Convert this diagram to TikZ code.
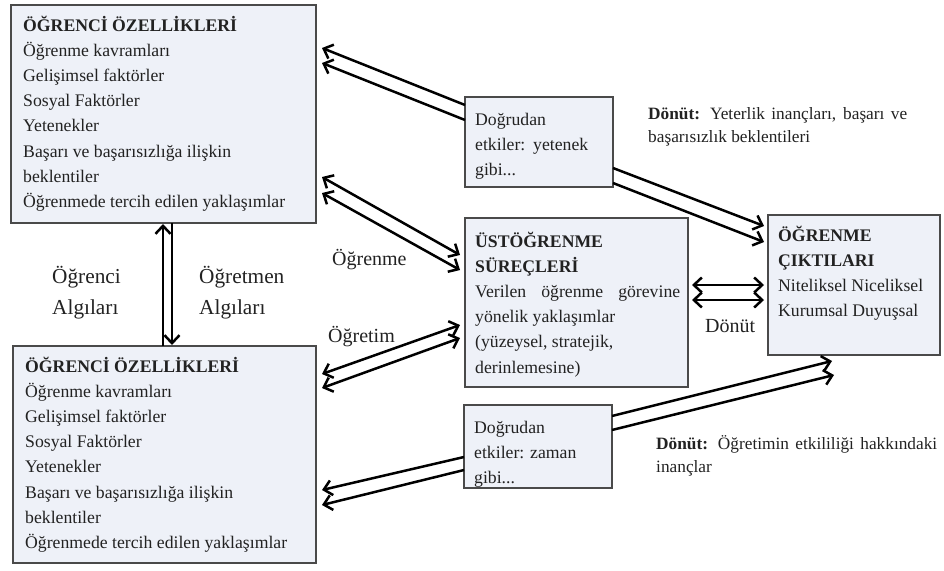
\documentclass[tikz,border=0pt]{standalone}
\usepackage{fontspec}
\setmainfont{Liberation Serif}
\usetikzlibrary{arrows.meta,calc}
\definecolor{boxfill}{HTML}{EEF1F8}
\definecolor{boxline}{HTML}{4A4A4A}
\definecolor{ink}{HTML}{222222}
\tikzset{
  barb/.tip={Straight Barb[length=8pt,width=15pt]},
  box/.style={draw=boxline, line width=1.1pt, fill=boxfill, anchor=north west, inner sep=0pt, outer sep=0pt},
  boxtext/.style={anchor=base west, inner sep=0pt, text=ink, font=\fontsize{17.7}{25.2}\selectfont},
  lbl/.style={anchor=base west, inner sep=0pt, text=ink, font=\fontsize{20}{31}\selectfont},
  biglbl/.style={lbl, font=\fontsize{21.3}{31}\selectfont},
  note/.style={anchor=base west, inner sep=0pt, text=ink, font=\fontsize{17.3}{23}\selectfont},
  arr/.style={line width=2.5pt, -barb},
  darr/.style={line width=2.5pt, barb-barb},
}
\begin{document}
\begin{tikzpicture}[x=1pt,y=-1pt]
\useasboundingbox[fill=white] (0,0) rectangle (944,570);

% boxes
\node[box, minimum width=305pt, minimum height=218pt] (tl) at (11,5) {};
\node[box, minimum width=303pt, minimum height=217pt] (bl) at (13,346) {};
\node[box, minimum width=148pt, minimum height=90pt] (tm) at (465,97) {};
\node[box, minimum width=223pt, minimum height=169pt] (ust) at (465,218) {};
\node[box, minimum width=148pt, minimum height=83pt] (bm) at (464,405) {};
\node[box, minimum width=172pt, minimum height=140pt] (rb) at (768,215) {};

% box contents
\node[boxtext] (tlt) at ([shift={(12,26)}]tl.north west) {\parbox[t]{295pt}{\raggedright
  \textbf{ÖĞRENCİ ÖZELLİKLERİ}\\
  Öğrenme kavramları\\
  Gelişimsel faktörler\\
  Sosyal Faktörler\\
  Yetenekler\\
  Başarı ve başarısızlığa ilişkin\\
  beklentiler\\
  Öğrenmede tercih edilen yaklaşımlar}};
\node[boxtext] (blt) at ([shift={(12,26)}]bl.north west) {\parbox[t]{295pt}{\raggedright
  \textbf{ÖĞRENCİ ÖZELLİKLERİ}\\
  Öğrenme kavramları\\
  Gelişimsel faktörler\\
  Sosyal Faktörler\\
  Yetenekler\\
  Başarı ve başarısızlığa ilişkin\\
  beklentiler\\
  Öğrenmede tercih edilen yaklaşımlar}};
\node[boxtext] (tmt) at ([shift={(10,28)}]tm.north west) {\parbox[t]{140pt}{\raggedright
  Doğrudan\\
  \makebox[113pt][s]{etkiler: yetenek}\\
  gibi...}};
\node[boxtext] (ustt) at ([shift={(10,29)}]ust.north west) {\parbox[t]{215pt}{\raggedright
  \textbf{ÜSTÖĞRENME}\\
  \textbf{SÜREÇLERİ}\\
  \makebox[205pt][s]{Verilen öğrenme görevine}\\
  yönelik yaklaşımlar\\
  (yüzeysel, stratejik,\\
  derinlemesine)}};
\node[boxtext] (bmt) at ([shift={(10,28)}]bm.north west) {\parbox[t]{140pt}{\raggedright
  Doğrudan\\
  etkiler: zaman\\
  gibi...}};
\node[boxtext] (rbt) at ([shift={(10,26)}]rb.north west) {\parbox[t]{165pt}{\raggedright
  \textbf{ÖĞRENME}\\
  \textbf{ÇIKTILARI}\\
  Niteliksel Niceliksel\\
  Kurumsal Duyuşsal}};

% free labels
\node[biglbl] (ogrenci) at (52,283) {\parbox[t]{100pt}{Öğrenci\\Algıları}};
\node[biglbl] (ogretmen) at (199,283) {\parbox[t]{100pt}{Öğretmen\\Algıları}};
\node[lbl] (ogrenme) at (332,265) {Öğrenme};
\node[lbl] (ogretim) at (328,342) {Öğretim};
\node[lbl] (donut) at (705,332) {Dönüt};
\node[note] (fb1) at (648,119) {\parbox[t]{280pt}{\makebox[259pt][s]{\textbf{Dönüt:} Yeterlik inançları, başarı ve}\\başarısızlık beklentileri}};
\node[note] (fb2) at (656,449) {\parbox[t]{290pt}{\makebox[281pt][s]{\textbf{Dönüt:} Öğretimin etkililiği hakkındaki}\\inançlar}};

% direct effects (ability) -> student characteristics
\draw[arr] ([shift={(0,8)}]tm.north west) -- ([shift={(6,43)}]tl.north east);
\draw[arr] ([shift={(0,23)}]tm.north west) -- ([shift={(6,58)}]tl.north east);
% learning
\draw[darr] ([shift={(6,172)}]tl.north east) -- ([shift={(-5,37)}]ust.north west);
\draw[darr] ([shift={(6,188)}]tl.north east) -- ([shift={(-5,52)}]ust.north west);
% teaching
\draw[darr] ([shift={(6,28)}]bl.north east) -- ([shift={(-5,107)}]ust.north west);
\draw[darr] ([shift={(6,42)}]bl.north east) -- ([shift={(-5,120)}]ust.north west);
% metalearning <-> outcomes
\draw[darr] ([shift={(4,67)}]ust.north east) -- ([shift={(-4,70)}]rb.north west);
\draw[darr] ([shift={(4,82)}]ust.north east) -- ([shift={(-4,85)}]rb.north west);
% direct effects (ability) -> outcomes
\draw[arr] ([shift={(0,71)}]tm.north east) -- ([shift={(-4,11)}]rb.north west);
\draw[arr] ([shift={(0,86)}]tm.north east) -- ([shift={(-4,27)}]rb.north west);
% direct effects (time) -> student characteristics
\draw[arr] ([shift={(0,52)}]bm.north west) -- ([shift={(6,144)}]bl.north east);
\draw[arr] ([shift={(0,65)}]bm.north west) -- ([shift={(6,159)}]bl.north east);
% direct effects (time) -> outcomes
\draw[arr] ([shift={(0,11)}]bm.north east) -- ([shift={(64,6)}]rb.south west);
\draw[arr] ([shift={(0,25)}]bm.north east) -- ([shift={(66,20)}]rb.south west);
% student / teacher perceptions
\draw[arr] ([shift={(150,0)}]bl.north west) -- ([shift={(152,1)}]tl.south west);
\draw[arr] ([shift={(161,0)}]tl.south west) -- ([shift={(159,-1)}]bl.north west);
\end{tikzpicture}
\end{document}
